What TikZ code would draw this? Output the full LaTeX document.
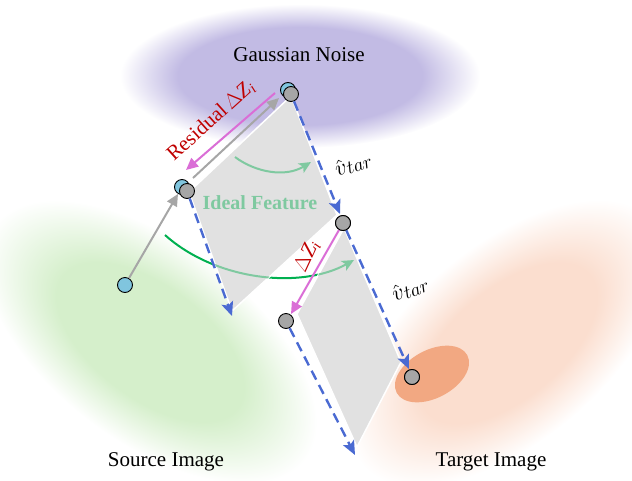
\RequirePackage{fix-cm}
\documentclass[tikz,border=0pt]{standalone}
\usepackage{fontspec}
\setmainfont{Liberation Serif}
\usetikzlibrary{arrows.meta}
\definecolor{purp}{HTML}{C2BBE4}
\definecolor{srcgreen}{HTML}{D5EFCB}
\definecolor{peach}{HTML}{FBDECF}
\definecolor{darkorange}{HTML}{F2A882}
\definecolor{ptblue}{HTML}{80C5DE}
\definecolor{ptgray}{HTML}{A6A6A6}
\definecolor{dashblue}{HTML}{4A6AD2}
\definecolor{pinkarr}{HTML}{DA6ED6}
\definecolor{redtxt}{HTML}{C00000}
\definecolor{greendark}{HTML}{00B050}
\definecolor{greenlight}{HTML}{7FC9A0}
\definecolor{shapegray}{HTML}{E1E1E1}
\pgfdeclareradialshading{purpfade}{\pgfpoint{0bp}{0bp}}{color(0bp)=(purp); color(17bp)=(purp); color(25bp)=(white); color(50bp)=(white)}
\pgfdeclareradialshading{greenfade}{\pgfpoint{0bp}{0bp}}{color(0bp)=(srcgreen); color(14bp)=(srcgreen); color(25bp)=(white); color(50bp)=(white)}
\pgfdeclareradialshading{peachfade}{\pgfpoint{0bp}{0bp}}{color(0bp)=(peach); color(14bp)=(peach); color(25bp)=(white); color(50bp)=(white)}
\newcommand{\vtar}{{\normalsize\scalebox{2.2}{$\hat{v}$}\raisebox{-2.5pt}{\scalebox{1.9}{$tar$}}}}
\newcommand{\dzi}{\,$\Delta$\textit{Z}\textsubscript{\textit{i}}}
\tikzset{
  pt/.style={circle, draw=black, line width=0.9pt, minimum size=15pt, inner sep=0pt},
  bluept/.style={pt, fill=ptblue},
  graypt/.style={pt, fill=ptgray},
  dasharrow/.style={dashblue, line width=2.4pt, dash pattern=on 10pt off 6pt, -{Stealth[length=14pt,width=12pt,inset=3pt]}},
  grayarrow/.style={ptgray, line width=2pt, -{Triangle[length=12pt,width=11pt]}},
  pinkarrow/.style={pinkarr, line width=2pt, -{Triangle[length=12pt,width=11pt]}},
  txt/.style={font=\fontsize{21}{24}\selectfont},
  gshape/.style={fill=shapegray, draw=white, line width=1.5pt, line join=round}
}
\begin{document}
\begin{tikzpicture}[x=1pt,y=-1pt]
\useasboundingbox (0,0) rectangle (632,480);
% background blobs
\shade[shading=purpfade] (300,76) ellipse (180 and 72);
\shade[shading=greenfade, transform canvas={shift={(150,342)}, rotate=-37}] (0,0) ellipse (195 and 100);
\shade[shading=peachfade, transform canvas={shift={(508,343)}, rotate=40}] (0,0) ellipse (190 and 98);
\fill[darkorange, rotate around={28:(432,374)}] (432,374) ellipse (40 and 24);
% main green arc (under gray shapes)
\draw[greendark, line width=2pt, -{Stealth[length=12pt,width=11pt,inset=3pt]}] (165,235) .. controls (215,280) and (300,290) .. (354,260);
% gray shapes
\path[gshape] (291,96) -- (189,192) -- (232,311) -- (337,215) -- cycle;
\path[gshape] (344,228) -- (297,314) -- (357,447) -- (401,362) -- cycle;
\begin{scope}
\clip (291,96) -- (189,192) -- (232,311) -- (337,215) -- cycle
      (344,228) -- (297,314) -- (357,447) -- (401,362) -- cycle;
\draw[greenlight, line width=2pt, -{Stealth[length=12pt,width=11pt,inset=3pt]}] (165,235) .. controls (215,280) and (300,290) .. (354,260);
\end{scope}
% ideal feature arc
\draw[greenlight, line width=2pt, -{Stealth[length=12pt,width=11pt,inset=3pt]}] (235,157) .. controls (255,172) and (285,178) .. (311,162);
\node[txt, font=\fontsize{20}{24}\selectfont\bfseries, text=greenlight] (ideal) at (260,203) {Ideal Feature};
% points
\node[bluept] (s0) at (125,285) {};
\node[bluept] (a1) at (182,187) {};
\node[graypt] (a2) at (187,191) {};
\node[bluept] (b1) at (288,90) {};
\node[graypt] (b2) at (291,94) {};
\node[graypt] (c) at (343,223) {};
\node[graypt] (d) at (286,321) {};
\node[graypt] (t) at (412,377) {};
% free ends
\coordinate (e1) at (340,214);
\coordinate (e2) at (232,316);
\coordinate (e3) at (409,369);
\coordinate (e4) at (355,455);
\coordinate (g1) at (193,178);
\coordinate (g2) at (279,98);
\coordinate (p1) at (275,93);
\coordinate (p2) at (186,170);
\coordinate (q2) at (291,314);
% arrows
\draw[grayarrow] (s0) -- (a1);
\draw[grayarrow] (g1) -- (g2);
\draw[pinkarrow] (p1) -- (p2);
\draw[dasharrow] (b2) -- (e1);
\draw[dasharrow] (a2) -- (e2);
\draw[dasharrow] (c) -- (e3);
\draw[dasharrow] (d) -- (e4);
\draw[pinkarrow] (c) -- (q2);
% redraw points on top
\node[graypt] at (c) {};
\node[graypt] at (t) {};
% labels
\node[txt] (gn) at (299,55) {Gaussian Noise};
\node[txt] (si) at (166,462) {Source Image};
\node[txt] (ti) at (491,462) {Target Image};
\node[txt, text=redtxt, rotate=42] (res) at (211,121) {Residual\dzi};
\node[txt, text=redtxt, rotate=65] (dz) at (307,256) {$\Delta$\textit{Z}\textsubscript{\textit{i}}};
\node[txt, rotate=20] (v1) at (353,164) {\vtar};
\node[txt, rotate=22] (v2) at (410,289) {\vtar};
\end{tikzpicture}
\end{document}
